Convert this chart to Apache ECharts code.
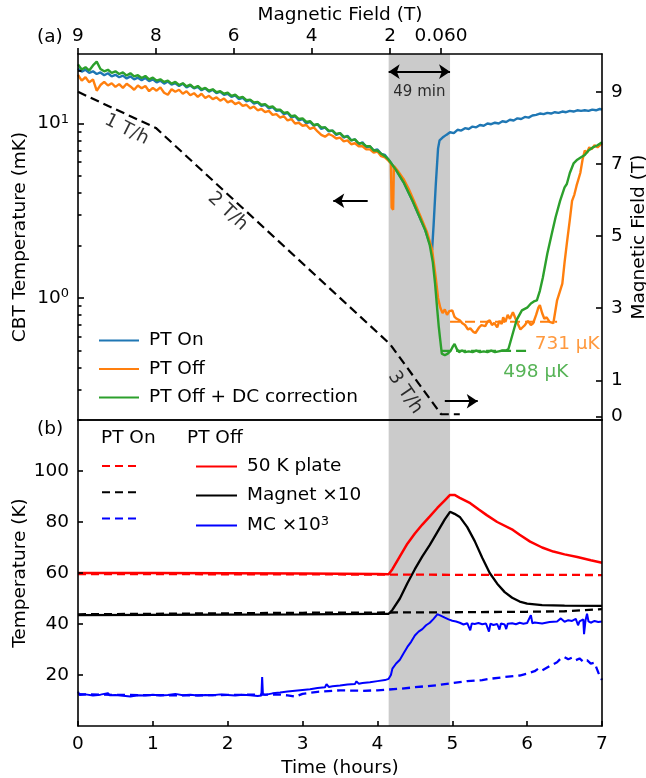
<!DOCTYPE html>
<html><head><meta charset="utf-8">
<script src="https://cdn.jsdelivr.net/npm/echarts@6/dist/echarts.min.js"></script>
<style>html,body{margin:0;padding:0;background:#fff}#c{width:646px;height:778px}</style>
</head><body><div id="c"></div>
<script>
// ---------- DATA ----------
const shadeSpan = [4.15, 4.97];
const topTickTimes = [0, 1.04, 2.08, 3.12, 4.17, 4.85];
const topTickLabels = ['9', '8', '6', '4', '2', '0.060'];
const fieldTickValues = [0, 1, 3, 5, 7, 9];
const cbtTickValues = [1, 10];
const cbtMinorTicks = [0.2,0.3,0.4,0.5,0.6,0.7,0.8,0.9,2,3,4,5,6,7,8,9,20];

const ptOnTime = [0,0.05,0.1,0.15,0.2,0.25,0.3,0.35,0.4,0.45,0.5,0.55,0.6,0.65,0.7,0.75,0.8,0.85,0.9,0.95,1.0,1.05,1.1,1.15,1.2,1.25,1.3,1.35,1.4,1.45,1.5,1.55,1.6,1.65,1.7,1.75,1.8,1.85,1.9,1.95,2.0,2.05,2.1,2.15,2.2,2.25,2.3,2.35,2.4,2.45,2.5,2.55,2.6,2.65,2.7,2.75,2.8,2.85,2.9,2.95,3.0,3.05,3.1,3.15,3.2,3.25,3.3,3.35,3.4,3.45,3.5,3.55,3.6,3.65,3.7,3.75,3.8,3.85,3.9,3.95,4.0,4.05,4.1,4.15,4.25,4.35,4.47,4.55,4.64,4.7,4.73,4.75,4.78,4.81,4.83,4.87,4.92,4.97,5.02,5.07,5.12,5.17,5.22,5.27,5.32,5.37,5.42,5.47,5.52,5.57,5.62,5.67,5.72,5.77,5.82,5.87,5.92,5.97,6.02,6.07,6.12,6.17,6.22,6.27,6.32,6.37,6.42,6.47,6.52,6.57,6.62,6.67,6.72,6.77,6.82,6.87,6.92,6.97,7.0];
const ptOnTemp = [20.6,19.8,20.3,19.5,19.9,19.2,19.6,18.9,19.4,18.6,19.0,18.4,18.8,18.1,18.6,17.9,18.3,17.7,18.2,17.5,17.9,17.2,17.6,16.9,17.4,16.7,17.0,16.4,16.9,16.1,16.5,15.9,16.2,15.5,15.9,15.2,15.6,14.9,15.2,14.6,14.8,14.2,14.5,13.8,14.0,13.4,13.6,13.0,13.2,12.6,12.8,12.2,12.4,11.8,11.9,11.3,11.5,10.8,11.0,10.4,10.6,10.0,10.2,9.7,9.9,9.3,9.5,9.0,9.1,8.6,8.8,8.3,8.5,8.0,8.1,7.6,7.8,7.3,7.4,7.0,7.1,6.7,6.6,6.2,5.4,4.6,3.6,3.0,2.44,2.05,1.88,2.6,4.5,7.2,8.0,8.3,8.6,8.9,8.8,9.2,9.1,9.4,9.3,9.6,9.5,9.8,9.7,10.0,9.9,10.1,10.0,10.3,10.2,10.5,10.4,10.7,10.6,10.9,10.8,11.1,11.2,11.4,11.3,11.5,11.4,11.6,11.5,11.7,11.6,11.8,11.7,11.9,11.8,11.9,11.8,12.0,11.9,12.1,12.0];

const ptOffTime = [0,0.05,0.1,0.15,0.2,0.25,0.3,0.35,0.4,0.45,0.5,0.55,0.6,0.65,0.7,0.75,0.8,0.85,0.9,0.95,1.0,1.05,1.1,1.15,1.2,1.25,1.3,1.35,1.4,1.45,1.5,1.55,1.6,1.65,1.7,1.75,1.8,1.85,1.9,1.95,2.0,2.05,2.1,2.15,2.2,2.25,2.3,2.35,2.4,2.45,2.5,2.55,2.6,2.65,2.7,2.75,2.8,2.85,2.9,2.95,3.0,3.05,3.1,3.15,3.2,3.25,3.3,3.35,3.4,3.45,3.5,3.55,3.6,3.65,3.7,3.75,3.8,3.85,3.9,3.95,4.0,4.05,4.1,4.15,4.18,4.19,4.21,4.22,4.28,4.35,4.42,4.5,4.58,4.66,4.73,4.78,4.81,4.84,4.87,4.9,4.93,4.96,5.0,5.03,5.06,5.1,5.13,5.17,5.21,5.24,5.28,5.31,5.33,5.36,5.39,5.41,5.44,5.47,5.5,5.53,5.56,5.6,5.63,5.66,5.68,5.71,5.74,5.77,5.81,5.84,5.87,5.91,5.94,5.97,6.01,6.05,6.08,6.12,6.15,6.17,6.2,6.23,6.26,6.3,6.35,6.4,6.44,6.47,6.5,6.53,6.57,6.6,6.63,6.66,6.71,6.74,6.77,6.8,6.83,6.86,6.9,6.94,7.0];
const ptOffTemp = [19.0,17.6,18.4,17.2,17.9,15.4,16.6,17.3,16.5,17.0,16.2,16.8,16.0,16.9,16.3,15.6,16.5,15.9,16.4,15.3,16.0,15.4,16.1,15.0,14.6,15.7,15.2,15.6,14.8,15.3,14.5,14.9,14.2,14.8,14.0,14.4,13.8,14.1,13.5,13.9,13.2,13.5,12.9,13.2,12.6,12.8,12.2,12.5,11.9,12.1,11.6,11.8,11.2,11.3,10.8,11.0,10.4,10.6,10.0,10.1,9.7,9.8,9.3,9.5,9.0,8.6,8.4,8.7,8.5,8.2,8.3,7.9,8.0,7.6,7.7,7.4,7.4,7.1,7.1,6.8,6.9,6.5,6.4,6.1,5.9,3.3,3.2,5.7,5.3,4.8,4.2,3.5,2.9,2.4,1.9,1.3,1.0,0.88,0.82,0.86,0.80,0.84,0.85,0.78,0.76,0.745,0.72,0.70,0.66,0.67,0.64,0.63,0.627,0.68,0.70,0.717,0.69,0.73,0.745,0.70,0.72,0.68,0.74,0.71,0.775,0.73,0.80,0.76,0.83,0.77,0.72,0.66,0.68,0.70,0.74,0.70,0.717,0.80,0.88,0.91,0.82,0.76,0.775,0.73,0.717,0.97,1.10,1.21,1.6,2.05,2.8,3.6,3.9,4.4,5.2,6.2,7.0,6.8,7.3,7.1,7.5,7.3,7.7];

const ptOffDcTime = [0,0.05,0.1,0.15,0.2,0.25,0.3,0.35,0.4,0.45,0.5,0.55,0.6,0.65,0.7,0.75,0.8,0.85,0.9,0.95,1.0,1.05,1.1,1.15,1.2,1.25,1.3,1.35,1.4,1.45,1.5,1.55,1.6,1.65,1.7,1.75,1.8,1.85,1.9,1.95,2.0,2.05,2.1,2.15,2.2,2.25,2.3,2.35,2.4,2.45,2.5,2.55,2.6,2.65,2.7,2.75,2.8,2.85,2.9,2.95,3.0,3.05,3.1,3.15,3.2,3.25,3.3,3.35,3.4,3.45,3.5,3.55,3.6,3.65,3.7,3.75,3.8,3.85,3.9,3.95,4.0,4.05,4.1,4.15,4.25,4.35,4.47,4.55,4.64,4.7,4.74,4.77,4.8,4.82,4.84,4.86,4.9,4.94,4.98,5.01,5.03,5.06,5.09,5.13,5.17,5.22,5.27,5.32,5.37,5.42,5.47,5.52,5.57,5.62,5.67,5.72,5.75,5.81,5.86,5.93,6.0,6.05,6.1,6.13,6.17,6.21,6.27,6.33,6.38,6.44,6.5,6.53,6.57,6.62,6.67,6.72,6.77,6.82,6.88,6.94,7.0];
const ptOffDcTemp = [21.8,20.4,21.0,20.1,21.5,22.6,20.5,19.9,20.3,19.5,19.9,19.2,19.6,18.8,19.4,18.6,18.9,18.2,18.7,17.9,18.3,17.6,17.9,17.3,17.6,16.9,17.3,16.6,17.0,16.3,16.7,16.0,16.4,15.7,16.0,15.4,15.7,15.1,15.3,14.8,15.0,14.4,14.6,14.0,14.2,13.6,13.7,13.2,13.3,12.8,12.9,12.4,12.5,12.0,12.0,11.5,11.6,11.0,11.1,10.6,10.7,10.2,10.3,9.8,9.9,9.5,9.5,9.1,9.1,8.7,8.8,8.4,8.4,8.0,8.1,7.7,7.7,7.4,7.4,7.0,7.0,6.7,6.5,6.2,5.4,4.6,3.6,3.0,2.44,2.0,1.6,1.21,0.85,0.68,0.57,0.48,0.47,0.48,0.50,0.53,0.545,0.51,0.49,0.50,0.49,0.495,0.49,0.50,0.49,0.495,0.49,0.50,0.49,0.495,0.50,0.50,0.51,0.63,0.75,0.85,0.88,0.93,0.96,0.97,1.1,1.31,1.8,2.34,2.9,3.6,4.3,4.5,5.2,5.9,6.2,6.4,6.6,7.0,7.3,7.5,7.8];

const baseOffTime = [4.97, 6.40];
const baseOffTemp = [0.731, 0.731];
const baseDcTime = [4.85, 6.0];
const baseDcTemp = [0.498, 0.498];

const fieldTime = [0, 1.04, 4.17, 4.85, 5.1];
const fieldValue = [9.0, 8.0, 2.0, 0.06, 0.06];

const plateOffTime = [0,1,2,3,4,4.15,4.2,4.3,4.4,4.5,4.6,4.7,4.8,4.9,4.97,5.03,5.1,5.24,5.35,5.46,5.6,5.81,5.9,6.04,6.2,6.35,6.5,6.67,6.85,7.0];
const plateOffTemp = [60.0,60.0,59.9,59.8,59.6,59.5,61.5,66.5,71.5,75.5,79.0,82.2,85.5,88.5,90.6,90.6,89.5,87.4,85.0,82.7,80.0,76.9,75.0,72.3,70.0,68.4,67.3,66.3,65.0,64.0];
const plateOnTime = [0,2,4,5,6,7];
const plateOnTemp = [59.6,59.5,59.4,59.3,59.3,59.2];

const magnetOffTime = [0,1,2,3,4,4.15,4.2,4.3,4.4,4.5,4.6,4.7,4.8,4.9,4.97,5.03,5.1,5.2,5.3,5.4,5.5,5.6,5.7,5.8,5.9,6.0,6.2,6.5,7.0];
const magnetOffTemp = [43.5,43.6,43.7,43.8,44.0,44.0,45.5,50.0,56.0,61.5,66.5,71.0,76.0,81.0,84.0,83.2,82.0,78.0,72.5,66.0,60.0,55.8,52.5,50.3,48.8,48.0,47.4,47.2,47.1];
const magnetOnTime = [0,1,2,3,4,5,6,6.5,7];
const magnetOnTemp = [43.8,44.0,44.2,44.4,44.5,44.6,44.8,45.0,45.8];

const mcOffTime = [0,0.02,0.1,0.2,0.3,0.4,0.42,0.5,0.6,0.7,0.8,0.9,1.0,1.1,1.2,1.3,1.32,1.4,1.5,1.6,1.7,1.8,1.9,2.0,2.1,2.2,2.3,2.4,2.45,2.46,2.47,2.5,2.6,2.7,2.8,2.9,3.0,3.1,3.2,3.3,3.32,3.35,3.4,3.5,3.6,3.7,3.72,3.75,3.8,3.9,4.0,4.1,4.15,4.18,4.2,4.25,4.3,4.35,4.4,4.45,4.5,4.55,4.6,4.65,4.7,4.75,4.8,4.83,4.85,4.9,4.95,5.0,5.05,5.1,5.15,5.2,5.24,5.26,5.3,5.35,5.4,5.45,5.49,5.51,5.55,5.6,5.63,5.65,5.7,5.72,5.74,5.8,5.85,5.9,5.95,6.0,6.05,6.07,6.1,6.2,6.3,6.4,6.45,6.5,6.55,6.6,6.65,6.68,6.7,6.75,6.76,6.78,6.8,6.82,6.85,6.9,6.95,7.0];
const mcOffTemp = [13.5,12.2,12.4,12.0,12.3,12.9,12.1,12.2,11.9,11.6,12.1,12.0,12.3,12.0,12.2,12.6,12.0,12.1,12.3,12.0,12.2,12.1,12.4,12.2,12.0,12.3,12.1,11.8,12.0,19.2,12.5,12.2,12.8,13.1,13.5,13.8,14.1,14.4,14.9,15.2,16.4,15.3,15.6,15.9,16.3,16.5,17.5,16.6,16.9,17.2,17.6,18.0,18.5,20.0,22.5,24.5,26.0,28.5,31.0,33.0,35.5,37.0,38.0,39.5,40.5,42.0,43.8,43.5,42.8,42.5,41.8,41.3,41.0,40.5,39.8,40.3,37.5,40.2,40.0,40.4,39.9,40.2,37.0,40.1,39.6,40.0,37.8,40.2,39.8,38.0,40.1,40.3,39.9,40.5,40.1,40.4,43.5,40.3,40.6,40.2,40.8,41.0,42.2,40.9,41.5,41.2,42.0,39.5,41.0,41.8,36.0,41.5,44.0,41.0,40.5,41.2,40.8,41.0];
const mcOnTime = [0,0.5,1.0,1.5,2.0,2.5,2.7,2.8,2.9,3.0,3.2,3.5,3.8,4.0,4.3,4.5,4.8,5.0,5.2,5.4,5.5,5.7,5.9,6.0,6.1,6.15,6.2,6.3,6.4,6.45,6.5,6.55,6.6,6.65,6.7,6.75,6.8,6.85,6.9,6.95,7.0];
const mcOnTemp = [12.5,12.2,12.1,12.0,12.2,12.3,12.3,12.0,11.5,12.6,13.4,14.0,13.8,14.0,14.6,15.2,16.0,16.8,17.6,18.0,18.5,19.2,19.8,20.5,21.5,22.5,21.8,23.5,25.0,26.5,27.0,26.2,26.8,25.8,26.5,25.2,25.8,24.5,24.8,21.0,18.0];

// ---------- CHART ----------
const pairs = (ts, vs) => ts.map((t, i) => [t, vs[i]]);
const FONT = 'DejaVu Sans';
const AX = {color: '#000', width: 1.6};
const FS = 18.5;
const SUP = 13;
const NOSYM = {color: 'rgba(0,0,0,0)', borderWidth: 0, opacity: 0};

const chart = echarts.init(document.getElementById('c'), null, {renderer: 'canvas'});

function line(name, xi, yi, ts, vs, color, width, dashed, z) {
  return {
    name, type: 'line', xAxisIndex: xi, yAxisIndex: yi, data: pairs(ts, vs),
    symbol: 'none', showSymbol: false, z: z || 3, silent: true,
    lineStyle: {color, width, type: dashed ? [8, 5] : 'solid'},
    itemStyle: {color}
  };
}
const T = (extra) => Object.assign({fontFamily: FONT, fontSize: FS, fontWeight: 'normal', color: '#000'}, extra || {});

const option = {
  animation: false,
  textStyle: {fontFamily: FONT, color: '#000'},
  title: [
    {text: '(a)', left: 32, top: 23, textStyle: T()},
    {text: '(b)', left: 32, top: 415, textStyle: T()},
    {text: 'PT On', left: 96, top: 424, textStyle: T()},
    {text: 'PT Off', left: 182, top: 424, textStyle: T()}
  ],
  grid: [
    {left: 78, top: 54, width: 524, height: 366, containLabel: false, outerBoundsMode: 'none'},
    {left: 78, top: 420, width: 524, height: 306, containLabel: false, outerBoundsMode: 'none'}
  ],
  legend: [
    {data: ['PT On', 'PT Off', 'PT Off + DC correction'], orient: 'vertical', left: 93, top: 326,
     itemWidth: 40, itemHeight: 18, itemGap: 9.5, selectedMode: false, itemStyle: NOSYM,
     textStyle: T({padding: [0, 0, 0, 5]})},
    {data: ['PT On 50 K plate', 'PT On Magnet', 'PT On MC'], orient: 'vertical', left: 96, top: 452,
     itemWidth: 37, itemHeight: 18, itemGap: 10, selectedMode: false, formatter: () => '', itemStyle: NOSYM,
     textStyle: T()},
    {data: ['50 K plate', 'Magnet ×10', 'MC ×10^3'], orient: 'vertical', left: 190, top: 452,
     itemWidth: 41, itemHeight: 18, itemGap: 10, selectedMode: false, itemStyle: NOSYM,
     formatter: n => n === 'MC ×10^3' ? 'MC ×10{s|3}' : n,
     textStyle: T({padding: [0, 0, 0, 5],
       rich: {s: {fontFamily: FONT, fontSize: SUP, color: '#000', verticalAlign: 'top', padding: [0, 0, 8, 0]}}})}
  ],
  xAxis: [
    {gridIndex: 0, type: 'value', position: 'bottom', min: 0, max: 7, z: 10,
     axisLine: {onZero: false, lineStyle: AX}, axisTick: {show: false}, axisLabel: {show: false}, splitLine: {show: false}},
    {gridIndex: 0, type: 'value', position: 'top', min: 0, max: 7, z: 10,
     axisLine: {onZero: false, lineStyle: AX},
     axisTick: {inside: false, length: 6, lineStyle: AX, customValues: topTickTimes},
     axisLabel: Object.assign(T(), {customValues: topTickTimes, margin: 8,
       formatter: v => { const i = topTickTimes.findIndex(t => Math.abs(t - v) < 1e-6); return i >= 0 ? topTickLabels[i] : ''; }}),
     splitLine: {show: false},
     name: 'Magnetic Field (T)', nameLocation: 'middle', nameGap: 29, nameMoveOverlap: false, nameTextStyle: T()},
    {gridIndex: 1, type: 'value', position: 'bottom', min: 0, max: 7, interval: 1, z: 10,
     axisLine: {onZero: false, lineStyle: AX}, axisTick: {inside: true, length: 5, lineStyle: AX},
     axisLabel: Object.assign(T(), {margin: 9}), splitLine: {show: false},
     name: 'Time (hours)', nameLocation: 'middle', nameGap: 33, nameMoveOverlap: false, nameTextStyle: T()},
    {gridIndex: 1, type: 'value', position: 'top', min: 0, max: 7, z: 10,
     axisLine: {onZero: false, lineStyle: AX}, axisTick: {show: false}, axisLabel: {show: false}, splitLine: {show: false}}
  ],
  yAxis: [
    {gridIndex: 0, type: 'log', logBase: 10, position: 'left', min: 0.2, max: 25, z: 10,
     axisLine: {onZero: false, lineStyle: AX},
     axisTick: {inside: true, length: 6, lineStyle: AX, customValues: cbtTickValues},
     axisLabel: Object.assign(T(), {customValues: cbtTickValues, margin: 9,
       formatter: v => '10{s|' + Math.round(Math.log10(v)) + '}',
       rich: {s: {fontFamily: FONT, fontSize: SUP, color: '#000', verticalAlign: 'top', padding: [0, 0, 8, 0]}}}),
     splitLine: {show: false}, minorTick: {show: false},
     name: 'CBT Temperature (mK)', nameLocation: 'middle', nameGap: 48, nameMoveOverlap: false, nameTextStyle: T()},
    {gridIndex: 0, type: 'log', logBase: 10, position: 'left', min: 0.2, max: 25, z: 10,
     axisLine: {show: false}, axisTick: {inside: true, length: 3.5, lineStyle: AX, customValues: cbtMinorTicks},
     axisLabel: {show: false}, splitLine: {show: false}},
    {gridIndex: 0, type: 'value', position: 'right', min: -0.1, max: 10.05, z: 10,
     axisLine: {onZero: false, lineStyle: AX},
     axisTick: {inside: true, length: 6, lineStyle: AX, customValues: fieldTickValues},
     axisLabel: Object.assign(T(), {customValues: fieldTickValues, margin: 9}),
     splitLine: {show: false},
     name: 'Magnetic Field (T)', nameLocation: 'middle', nameGap: 28, nameMoveOverlap: false, nameTextStyle: T()},
    {gridIndex: 1, type: 'value', position: 'left', min: 0, max: 120, interval: 20, z: 10,
     axisLine: {onZero: false, lineStyle: AX}, axisTick: {inside: true, length: 5, lineStyle: AX},
     axisLabel: Object.assign(T(), {margin: 9, showMinLabel: false, showMaxLabel: false}),
     splitLine: {show: false},
     name: 'Temperature (K)', nameLocation: 'middle', nameGap: 48, nameMoveOverlap: false, nameTextStyle: T()},
    {gridIndex: 1, type: 'value', position: 'right', min: 0, max: 120, z: 10,
     axisLine: {onZero: false, lineStyle: AX}, axisTick: {show: false}, axisLabel: {show: false}, splitLine: {show: false}}
  ],
  series: [
    {name: 'shadeA', type: 'line', xAxisIndex: 0, yAxisIndex: 2, data: pairs(shadeSpan, [5, 5]), symbol: 'none',
     lineStyle: {width: 0, opacity: 0}, z: 1, silent: true,
     markArea: {silent: true, itemStyle: {color: '#cbcbcb'}, data: [[{xAxis: shadeSpan[0]}, {xAxis: shadeSpan[1]}]]}},
    {name: 'shadeB', type: 'line', xAxisIndex: 2, yAxisIndex: 3, data: pairs(shadeSpan, [50, 50]), symbol: 'none',
     lineStyle: {width: 0, opacity: 0}, z: 1, silent: true,
     markArea: {silent: true, itemStyle: {color: '#cbcbcb'}, data: [[{xAxis: shadeSpan[0]}, {xAxis: shadeSpan[1]}]]}},

    Object.assign(line('Field', 0, 2, fieldTime, fieldValue, '#000', 2.2, false, 3), {
      lineStyle: {color: '#000', width: 2.2, type: [9, 5]},
      markLine: {silent: true, symbol: ['none', 'arrow'], symbolSize: 11,
        lineStyle: {type: 'solid', color: '#000', width: 1.8}, label: {show: false},
        data: [
          [{coord: [3.87, 5.98]}, {coord: [3.41, 5.98]}],
          [{coord: [4.90, 0.42]}, {coord: [5.34, 0.42]}],
          [{coord: [4.15, 9.56], symbol: 'arrow'}, {coord: [4.97, 9.56]}]
        ]}
    }),
    line('PT On', 0, 0, ptOnTime, ptOnTemp, '#1f77b4', 2.4, false, 4),
    line('PT Off', 0, 0, ptOffTime, ptOffTemp, '#ff7f0e', 2.4, false, 5),
    line('PT Off + DC correction', 0, 0, ptOffDcTime, ptOffDcTemp, '#2ca02c', 2.4, false, 6),
    Object.assign(line('base731', 0, 0, baseOffTime, baseOffTemp, '#ff7f0e', 2.2, true, 5), {lineStyle: {color: '#ff7f0e', width: 2.2, type: [10, 5]}}),
    Object.assign(line('base498', 0, 0, baseDcTime, baseDcTemp, '#2ca02c', 2.2, true, 6), {lineStyle: {color: '#2ca02c', width: 2.2, type: [10, 5]}}),
    {name: 'annot', type: 'scatter', xAxisIndex: 0, yAxisIndex: 2, symbolSize: 0, silent: true, z: 8,
     label: {show: true, position: 'inside', fontFamily: FONT, fontSize: FS, color: '#000'},
     data: [
       {value: [0.65, 7.95], label: {formatter: '1 T/h', rotate: -27}},
       {value: [2.0, 5.68], label: {formatter: '2 T/h', rotate: -43}},
       {value: [4.37, 0.66], label: {formatter: '3 T/h', rotate: -56}},
       {value: [4.56, 8.98], label: {formatter: '49 min', fontSize: 15}},
       {value: [6.10, 1.99], label: {formatter: '731 µK', color: '#ff7f0e', position: 'right', distance: 0}},
       {value: [5.68, 1.22], label: {formatter: '498 µK', color: '#2ca02c', position: 'right', distance: 0}}
     ]},

    line('50 K plate', 2, 3, plateOffTime, plateOffTemp, '#ff0000', 2.5, false, 3),
    line('Magnet ×10', 2, 3, magnetOffTime, magnetOffTemp, '#000000', 2.3, false, 3),
    line('MC ×10^3', 2, 3, mcOffTime, mcOffTemp, '#0000ff', 2.0, false, 3),
    line('PT On 50 K plate', 2, 3, plateOnTime, plateOnTemp, '#ff0000', 2.3, true, 4),
    line('PT On Magnet', 2, 3, magnetOnTime, magnetOnTemp, '#000000', 2.3, true, 4),
    line('PT On MC', 2, 3, mcOnTime, mcOnTemp, '#0000ff', 2.3, true, 4)
  ]
};
chart.setOption(option);
</script></body></html>
